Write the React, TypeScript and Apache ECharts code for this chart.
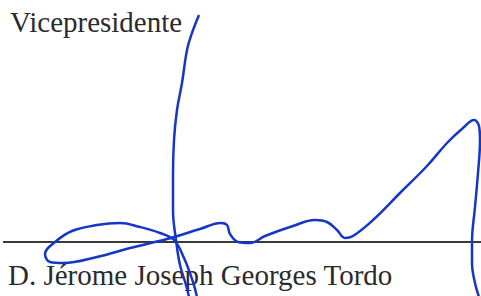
import React, { useEffect, useRef } from "react";
import * as echarts from "echarts";

// Texts of the signature block
const titleText = "Vicepresidente";
const nameText = "D. Jérome Joseph Georges Tordo";

// Signature rule (horizontal line) endpoints [x, y]
const ruleLine: [number, number][] = [
  [3, 242],
  [481, 242],
];

// Stroke 1: long vertical stroke from the top
const strokeVertical: [number, number][] = [
  [199, 15],
  [192, 33],
  [187, 50],
  [182, 83],
  [177, 110],
  [174, 140],
  [173, 175],
  [173, 210],
  [176, 240],
  [180, 265],
  [186, 285],
  [189, 297],
];

// Stroke 2: loop, waves and the right-hand peak
const strokeMain: [number, number][] = [
  [197, 297],
  [193, 282],
  [184, 258],
  [174, 240],
  [160, 233],
  [140, 227],
  [120, 223],
  [97, 225],
  [72, 231],
  [55, 242],
  [45, 254],
  [50, 262],
  [63, 263],
  [97, 257],
  [130, 248],
  [167, 239],
  [200, 229],
  [221, 223],
  [227, 225],
  [230, 234],
  [238, 242],
  [250, 243],
  [265, 236],
  [293, 226],
  [315, 220],
  [327, 222],
  [337, 230],
  [345, 238],
  [353, 236],
  [373, 220],
  [400, 193],
  [427, 166],
  [447, 143],
  [463, 128],
  [474, 120],
  [479, 126],
  [480, 140],
  [478, 173],
  [475, 207],
  [472, 242],
  [472, 263],
  [475, 283],
  [479, 297],
];

const INK = "#1636c8";
const SERIF = "Liberation Serif, Times New Roman, DejaVu Serif, serif";

export default function App() {
  const ref = useRef<HTMLDivElement>(null);
  useEffect(() => {
    if (!ref.current) return;
    const chart = echarts.init(ref.current, undefined, { renderer: "svg" });
    chart.setOption({
      animation: false,
      backgroundColor: "#ffffff",
      textStyle: { fontFamily: SERIF },
      grid: { left: 0, right: 0, top: 0, bottom: 0 },
      xAxis: { type: "value", min: 0, max: 481, show: false },
      yAxis: { type: "value", min: 0, max: 296, inverse: true, show: false },
      graphic: [
        {
          type: "text",
          x: 10,
          y: 22,
          z: 0,
          style: {
            text: titleText,
            font: "29px " + SERIF,
            fontFamily: SERIF,
            fontSize: 29,
            fill: "#2b2b2b",
            verticalAlign: "middle",
          },
        },
        {
          type: "text",
          x: 8,
          y: 275,
          z: 0,
          style: {
            text: nameText,
            font: "29px " + SERIF,
            fontFamily: SERIF,
            fontSize: 29,
            fill: "#2b2b2b",
            verticalAlign: "middle",
          },
        },
      ],
      series: [
        {
          type: "line",
          data: ruleLine,
          showSymbol: false,
          lineStyle: { color: "#3a3a3a", width: 2 },
          silent: true,
          z: 1,
        },
        {
          type: "line",
          data: strokeVertical,
          smooth: 0.4,
          showSymbol: false,
          lineStyle: { color: INK, width: 2.5 },
          silent: true,
          z: 3,
        },
        {
          type: "line",
          data: strokeMain,
          smooth: 0.4,
          showSymbol: false,
          lineStyle: { color: INK, width: 2.5 },
          silent: true,
          z: 3,
        },
      ],
    });
    return () => chart.dispose();
  }, []);
  return (
    <div
      ref={ref}
      style={{ position: "fixed", left: 0, top: 0, width: 481, height: 296 }}
    />
  );
}
